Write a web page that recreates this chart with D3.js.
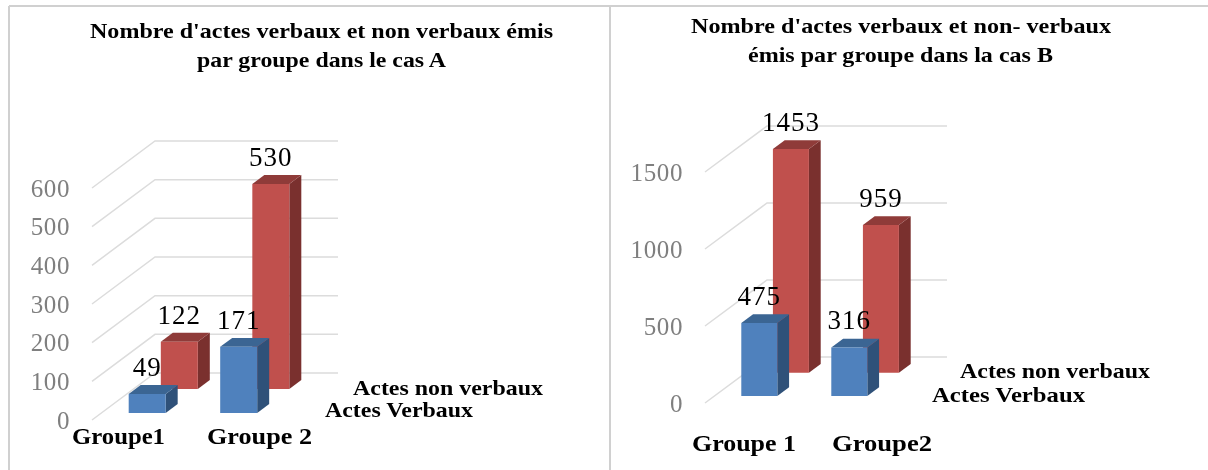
<!DOCTYPE html>
<html>
<head>
<meta charset="utf-8">
<script src="https://cdn.jsdelivr.net/npm/d3@7"></script>
<style>
    body { margin: 0; background: #fff; }
    svg { display: block; font-family: "Liberation Serif", serif; filter: blur(0.45px); }
</style>
</head>
<body>
<div id="chart"></div>
<script>
// Data
const groupsA = ["Groupe1", "Groupe 2"];
const groupsB = ["Groupe 1", "Groupe2"];
const seriesNames = ["Actes Verbaux", "Actes non verbaux"];
const verbauxA = [49, 171];
const nonVerbauxA = [122, 530];
const verbauxB = [475, 316];
const nonVerbauxB = [1453, 959];
const ticksA = [0, 100, 200, 300, 400, 500, 600];
const ticksB = [0, 500, 1000, 1500];
const titleA = ["Nombre d'actes verbaux et non verbaux émis", "par groupe dans le cas A"];
const titleB = ["Nombre d'actes verbaux et non- verbaux", "émis par groupe dans la cas B"];

const colors = {
    "Actes Verbaux": { front: "#4f81bd", top: "#3b6593", side: "#2f5179" },
    "Actes non verbaux": { front: "#c0504d", top: "#8f3b39", side: "#7a302e" }
};

const width = 1208;
const height = 470;

const svg = d3.select("#chart")
    .append("svg")
    .attr("width", width)
    .attr("height", height);

// Panel borders
const borders = [[9, 6, 9, 470], [9, 6, 1208, 6], [610, 6, 610, 470]];
svg.selectAll("line.border")
    .data(borders)
    .join("line")
    .attr("class", "border")
    .attr("x1", d => d[0])
    .attr("y1", d => d[1])
    .attr("x2", d => d[2])
    .attr("y2", d => d[3])
    .attr("stroke", "#d0d0d0")
    .attr("stroke-width", 2);

function drawChart(cfg) {
    const g = svg.append("g");

    const xScale = d3.scaleBand()
        .domain(cfg.groups)
        .range([cfg.left, cfg.right]);

    const yScale = d3.scaleLinear()
        .domain([0, cfg.ticks[cfg.ticks.length - 1]])
        .range([cfg.bottom, cfg.top]);

    // Depth of the oblique floor: 0 at the front, 1 at the back wall
    const zScale = d3.scaleBand()
        .domain(seriesNames)
        .range([0, 1])
        .paddingInner(0.627)
        .paddingOuter(0.294);

    const project = (x, y, z) => [x + z * cfg.depthX, y - z * cfg.depthY];
    const line = d3.line();

    // Grid: side wall then back wall
    g.selectAll("path.grid")
        .data(cfg.ticks)
        .join("path")
        .attr("class", "grid")
        .attr("fill", "none")
        .attr("stroke", "#dcdcdc")
        .attr("stroke-width", 1.5)
        .attr("d", d => line([
            project(cfg.left, yScale(d), 0),
            project(cfg.left, yScale(d), 1),
            project(cfg.right, yScale(d), 1)
        ]));

    // Axis
    const yAxis = d3.axisLeft(yScale)
        .tickValues(cfg.ticks)
        .tickFormat(d3.format("d"))
        .tickSize(0)
        .tickPadding(22);

    const yAxisGroup = g.append("g")
        .attr("transform", `translate(${cfg.left}, 0)`)
        .call(yAxis);
    yAxisGroup.select(".domain").remove();
    yAxisGroup.selectAll("text")
        .attr("font-family", "Liberation Serif")
        .attr("font-size", 25)
        .attr("letter-spacing", 0.6)
        .attr("fill", "#7f7f7f");

    // Bars, back series first so the blue ones sit in front
    const barWidth = cfg.barWidth;
    const barData = [];
    [...seriesNames].reverse().forEach(name => {
        cfg.groups.forEach((group, i) => {
            barData.push({ name, group, value: cfg.values[name][i] });
        });
    });

    const bars = g.selectAll("g.bar")
        .data(barData)
        .join("g")
        .attr("class", "bar");

    const corners = d => {
        const x0 = xScale(d.group) + (xScale.bandwidth() - barWidth) / 2;
        const x1 = x0 + barWidth;
        const z0 = zScale(d.name);
        const z1 = z0 + zScale.bandwidth();
        return { x0, x1, z0, z1, y0: yScale(0), y1: yScale(d.value) };
    };

    bars.append("path")
        .attr("fill", d => colors[d.name].side)
        .attr("d", d => {
            const c = corners(d);
            return line([
                project(c.x1, c.y0, c.z0), project(c.x1, c.y0, c.z1),
                project(c.x1, c.y1, c.z1), project(c.x1, c.y1, c.z0)
            ]) + "Z";
        });

    bars.append("path")
        .attr("fill", d => colors[d.name].top)
        .attr("d", d => {
            const c = corners(d);
            return line([
                project(c.x0, c.y1, c.z0), project(c.x1, c.y1, c.z0),
                project(c.x1, c.y1, c.z1), project(c.x0, c.y1, c.z1)
            ]) + "Z";
        });

    bars.append("path")
        .attr("fill", d => colors[d.name].front)
        .attr("d", d => {
            const c = corners(d);
            return line([
                project(c.x0, c.y0, c.z0), project(c.x1, c.y0, c.z0),
                project(c.x1, c.y1, c.z0), project(c.x0, c.y1, c.z0)
            ]) + "Z";
        });

    // Value labels
    g.selectAll("text.value")
        .data(barData)
        .join("text")
        .attr("class", "value")
        .attr("text-anchor", "middle")
        .attr("font-size", 27)
        .attr("letter-spacing", 1)
        .attr("fill", "#000")
        .attr("x", d => {
            const c = corners(d);
            return project((c.x0 + c.x1) / 2, c.y1, c.z0)[0];
        })
        .attr("y", d => {
            const c = corners(d);
            return project(c.x0, c.y1, c.z0)[1] - 18;
        })
        .text(d => d.value);

    // Group labels
    g.selectAll("text.group")
        .data(cfg.groups)
        .join("text")
        .attr("class", "group")
        .attr("font-size", 23)
        .attr("font-weight", "bold")
        .attr("x", (d, i) => cfg.groupX[i])
        .attr("y", cfg.groupY)
        .attr("textLength", (d, i) => cfg.groupW[i])
        .attr("lengthAdjust", "spacingAndGlyphs")
        .text(d => d);

    // Series names
    g.selectAll("text.series")
        .data(seriesNames)
        .join("text")
        .attr("class", "series")
        .attr("font-size", 22)
        .attr("font-weight", "bold")
        .attr("x", (d, i) => cfg.seriesX[i])
        .attr("y", (d, i) => cfg.seriesY[i])
        .attr("textLength", (d, i) => cfg.seriesW[i])
        .attr("lengthAdjust", "spacingAndGlyphs")
        .text(d => d);

    // Title
    g.selectAll("text.title")
        .data(cfg.title)
        .join("text")
        .attr("class", "title")
        .attr("font-size", 22)
        .attr("font-weight", "bold")
        .attr("x", (d, i) => cfg.titleX[i])
        .attr("y", (d, i) => cfg.titleY + i * 29)
        .attr("textLength", (d, i) => cfg.titleW[i])
        .attr("lengthAdjust", "spacingAndGlyphs")
        .text(d => d);
}

drawChart({
    groups: groupsA,
    values: { "Actes Verbaux": verbauxA, "Actes non verbaux": nonVerbauxA },
    ticks: ticksA,
    title: titleA,
    left: 92,
    right: 275,
    top: 188,
    bottom: 420,
    depthX: 63,
    depthY: 47,
    barWidth: 37,
    groupX: [72, 207],
    groupW: [93, 105],
    groupY: 444,
    seriesX: [325, 353],
    seriesW: [148, 190],
    seriesY: [417, 395],
    titleX: [90, 197],
    titleW: [463, 249],
    titleY: 38
});

drawChart({
    groups: groupsB,
    values: { "Actes Verbaux": verbauxB, "Actes non verbaux": nonVerbauxB },
    ticks: ticksB,
    title: titleB,
    left: 705,
    right: 885,
    top: 172,
    bottom: 403,
    depthX: 62,
    depthY: 46,
    barWidth: 36,
    groupX: [692, 832],
    groupW: [104, 100],
    groupY: 451,
    seriesX: [932, 960],
    seriesW: [153, 190],
    seriesY: [402, 378],
    titleX: [691, 748],
    titleW: [420, 305],
    titleY: 33
});
</script>
</body>
</html>
